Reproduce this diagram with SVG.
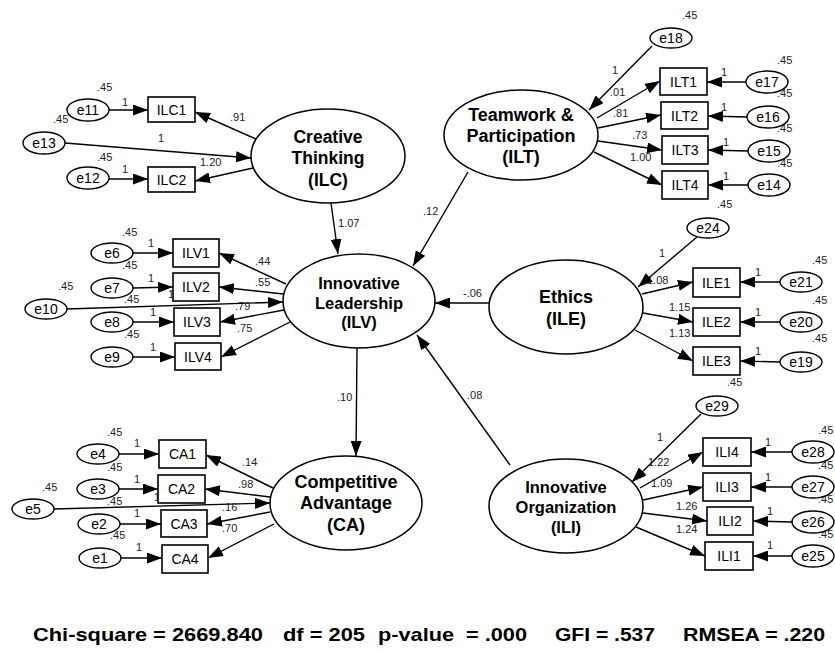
<svg xmlns="http://www.w3.org/2000/svg" width="835" height="653" viewBox="0 0 835 653">
<defs>
<marker id="ah" markerUnits="userSpaceOnUse" markerWidth="15" markerHeight="11" refX="15" refY="5.5" orient="auto">
<path d="M0,0 L15,5.5 L0,11 z" fill="#000"/>
</marker>
<style>
.lat{fill:#fff;stroke:#000;stroke-width:1.5}
.obs{fill:#fff;stroke:#000;stroke-width:1.6}
.err{fill:#fff;stroke:#000;stroke-width:1.4}
.ln{stroke:#000;stroke-width:1.4;fill:none;marker-end:url(#ah)}
.lt{font-family:"Liberation Sans",Arial,sans-serif;font-weight:bold;fill:#000;text-anchor:middle}
.nt{font-family:"Liberation Sans",Arial,sans-serif;font-size:14px;fill:#000;text-anchor:middle}
.num{font-family:"Liberation Sans",Arial,sans-serif;font-size:11px;fill:#222}
.fit{font-family:"Liberation Sans",Arial,sans-serif;font-weight:bold;font-size:19px;fill:#000}
</style>
</defs>
<rect width="835" height="653" fill="#fff"/>

<g id="connectors">
<line class="ln" x1="109" y1="110" x2="148" y2="110"/>
<line class="ln" x1="109" y1="179" x2="148" y2="179"/>
<line class="ln" x1="65" y1="143" x2="251" y2="158"/>
<line class="ln" x1="256" y1="139" x2="195" y2="112"/>
<line class="ln" x1="253" y1="168" x2="195" y2="181"/>
<line class="ln" x1="331" y1="203" x2="338" y2="254"/>
<line class="ln" x1="468" y1="172" x2="413" y2="266"/>
<line class="ln" x1="489" y1="303" x2="435" y2="303"/>
<line class="ln" x1="510" y1="465" x2="417" y2="335"/>
<line class="ln" x1="357" y1="348" x2="356" y2="456"/>
<line class="ln" x1="652" y1="46" x2="589" y2="110"/>
<line class="ln" x1="597" y1="118" x2="660" y2="81"/>
<line class="ln" x1="598" y1="128" x2="661" y2="115"/>
<line class="ln" x1="598" y1="141" x2="662" y2="150"/>
<line class="ln" x1="594" y1="152" x2="662" y2="185"/>
<line class="ln" x1="746" y1="82" x2="707" y2="82"/>
<line class="ln" x1="747" y1="117" x2="708" y2="116"/>
<line class="ln" x1="748" y1="151" x2="708" y2="150"/>
<line class="ln" x1="748" y1="185" x2="708" y2="185"/>
<line class="ln" x1="697" y1="237" x2="638" y2="287"/>
<line class="ln" x1="642" y1="294" x2="693" y2="282"/>
<line class="ln" x1="643" y1="313" x2="693" y2="322"/>
<line class="ln" x1="635" y1="330" x2="693" y2="361"/>
<line class="ln" x1="780" y1="282" x2="740" y2="282"/>
<line class="ln" x1="780" y1="322" x2="740" y2="322"/>
<line class="ln" x1="780" y1="362" x2="740" y2="361"/>
<line class="ln" x1="133" y1="253" x2="173" y2="253"/>
<line class="ln" x1="133" y1="288" x2="173" y2="287"/>
<line class="ln" x1="133" y1="322" x2="174" y2="322"/>
<line class="ln" x1="133" y1="357" x2="175" y2="357"/>
<line class="ln" x1="67" y1="309" x2="283" y2="302"/>
<line class="ln" x1="286" y1="284" x2="219" y2="253"/>
<line class="ln" x1="283" y1="294" x2="219" y2="287"/>
<line class="ln" x1="284" y1="310" x2="220" y2="322"/>
<line class="ln" x1="290" y1="322" x2="221" y2="357"/>
<line class="ln" x1="119" y1="454" x2="159" y2="454"/>
<line class="ln" x1="119" y1="489" x2="158" y2="489"/>
<line class="ln" x1="120" y1="524" x2="161" y2="524"/>
<line class="ln" x1="121" y1="558" x2="162" y2="558"/>
<line class="ln" x1="54" y1="509" x2="270" y2="503"/>
<line class="ln" x1="273" y1="488" x2="206" y2="455"/>
<line class="ln" x1="270" y1="497" x2="205" y2="489"/>
<line class="ln" x1="270" y1="512" x2="207" y2="524"/>
<line class="ln" x1="274" y1="524" x2="208" y2="558"/>
<line class="ln" x1="701" y1="414" x2="632" y2="482"/>
<line class="ln" x1="640" y1="488" x2="703" y2="452"/>
<line class="ln" x1="643" y1="500" x2="703" y2="487"/>
<line class="ln" x1="643" y1="513" x2="707" y2="521"/>
<line class="ln" x1="636" y1="527" x2="705" y2="556"/>
<line class="ln" x1="792" y1="452" x2="751" y2="452"/>
<line class="ln" x1="792" y1="487" x2="751" y2="487"/>
<line class="ln" x1="792" y1="522" x2="753" y2="521"/>
<line class="ln" x1="792" y1="556" x2="753" y2="556"/>
</g>

<g id="path-labels">
<text class="num" x="97" y="91">.45</text><text class="num" x="122" y="106">1</text>
<text class="num" x="53" y="123">.45</text><text class="num" x="158" y="142">1</text>
<text class="num" x="97" y="161">.45</text><text class="num" x="122" y="173">1</text>
<text class="num" x="230" y="121">.91</text>
<text class="num" x="200" y="166">1.20</text>
<text class="num" x="338" y="227">1.07</text>
<text class="num" x="423" y="215">.12</text>
<text class="num" x="463" y="297">-.06</text>
<text class="num" x="467" y="399">.08</text>
<text class="num" x="337" y="401">.10</text>
<text class="num" x="682" y="19">.45</text>
<text class="num" x="612" y="74">1</text>
<text class="num" x="610" y="96">.01</text>
<text class="num" x="613" y="117">.81</text>
<text class="num" x="632" y="139">.73</text>
<text class="num" x="630" y="161">1.00</text>
<text class="num" x="721" y="76">1</text><text class="num" x="777" y="64">.45</text>
<text class="num" x="721" y="111">1</text><text class="num" x="777" y="97">.45</text>
<text class="num" x="723" y="146">1</text><text class="num" x="777" y="132">.45</text>
<text class="num" x="723" y="180">1</text><text class="num" x="777" y="167">.45</text>
<text class="num" x="717" y="208">.45</text>
<text class="num" x="659" y="257">1</text>
<text class="num" x="647" y="284">1.08</text>
<text class="num" x="669" y="311">1.15</text>
<text class="num" x="669" y="337">1.13</text>
<text class="num" x="755" y="276">1</text><text class="num" x="812" y="264">.45</text>
<text class="num" x="755" y="316">1</text><text class="num" x="812" y="304">.45</text>
<text class="num" x="755" y="355">1</text><text class="num" x="812" y="342">.45</text>
<text class="num" x="122" y="236">.45</text><text class="num" x="148" y="247">1</text>
<text class="num" x="122" y="269">.45</text><text class="num" x="148" y="282">1</text>
<text class="num" x="58" y="290">.45</text><text class="num" x="168" y="298">1</text>
<text class="num" x="124" y="303">.45</text><text class="num" x="150" y="316">1</text>
<text class="num" x="124" y="338">.45</text><text class="num" x="150" y="351">1</text>
<text class="num" x="255" y="265">.44</text>
<text class="num" x="255" y="286">.55</text>
<text class="num" x="235" y="310">.79</text>
<text class="num" x="237" y="332">.75</text>
<text class="num" x="107" y="436">.45</text><text class="num" x="134" y="447">1</text>
<text class="num" x="107" y="471">.45</text><text class="num" x="134" y="483">1</text>
<text class="num" x="42" y="491">.45</text><text class="num" x="154" y="501">1</text>
<text class="num" x="107" y="505">.45</text><text class="num" x="134" y="517">1</text>
<text class="num" x="110" y="539">.45</text><text class="num" x="136" y="551">1</text>
<text class="num" x="242" y="466">.14</text>
<text class="num" x="238" y="488">.98</text>
<text class="num" x="222" y="511">.16</text>
<text class="num" x="222" y="532">.70</text>
<text class="num" x="727" y="386">.45</text>
<text class="num" x="657" y="441">1</text>
<text class="num" x="648" y="466">1.22</text>
<text class="num" x="651" y="487">1.09</text>
<text class="num" x="676" y="510">1.26</text>
<text class="num" x="676" y="533">1.24</text>
<text class="num" x="765" y="446">1</text><text class="num" x="818" y="434">.45</text>
<text class="num" x="765" y="481">1</text><text class="num" x="818" y="469">.45</text>
<text class="num" x="767" y="515">1</text><text class="num" x="818" y="503">.45</text>
<text class="num" x="767" y="549">1</text><text class="num" x="818" y="538">.45</text>
</g>

<g id="ILC"><ellipse class="lat" cx="328" cy="156" rx="77" ry="47"/>
<text class="lt" font-size="17.5" x="328" y="143">Creative</text>
<text class="lt" font-size="17.5" x="328" y="164">Thinking</text>
<text class="lt" font-size="17.5" x="328" y="186">(ILC)</text></g>
<g id="ILV"><ellipse class="lat" cx="359" cy="301" rx="76" ry="47"/>
<text class="lt" font-size="16.5" x="359" y="289">Innovative</text>
<text class="lt" font-size="16.5" x="359" y="309">Leadership</text>
<text class="lt" font-size="16.5" x="359" y="328">(ILV)</text></g>
<g id="ILT"><ellipse class="lat" cx="521" cy="135" rx="77" ry="45"/>
<text class="lt" font-size="18" x="521" y="121">Teamwork &amp;</text>
<text class="lt" font-size="18" x="521" y="142">Participation</text>
<text class="lt" font-size="18" x="521" y="163">(ILT)</text></g>
<g id="ILE"><ellipse class="lat" cx="566" cy="307" rx="77" ry="47"/>
<text class="lt" font-size="18" x="566" y="303">Ethics</text>
<text class="lt" font-size="18" x="566" y="325">(ILE)</text></g>
<g id="CA"><ellipse class="lat" cx="346" cy="503" rx="76" ry="47"/>
<text class="lt" font-size="18" x="346" y="488">Competitive</text>
<text class="lt" font-size="18" x="346" y="509">Advantage</text>
<text class="lt" font-size="18" x="346" y="531">(CA)</text></g>
<g id="ILI"><ellipse class="lat" cx="566" cy="506" rx="77" ry="47"/>
<text class="lt" font-size="16.5" x="566" y="493">Innovative</text>
<text class="lt" font-size="16.5" x="566" y="513">Organization</text>
<text class="lt" font-size="16.5" x="566" y="533">(ILI)</text></g>

<g id="ILC1"><rect class="obs" x="148" y="97" width="47" height="25"/><text class="nt" x="171.5" y="114.5">ILC1</text></g>
<g id="ILC2"><rect class="obs" x="148" y="167" width="47" height="25"/><text class="nt" x="171.5" y="184.5">ILC2</text></g>
<g id="ILT1"><rect class="obs" x="660" y="68" width="47" height="27"/><text class="nt" x="683.5" y="86.5">ILT1</text></g>
<g id="ILT2"><rect class="obs" x="661" y="102" width="47" height="27"/><text class="nt" x="684.5" y="120.5">ILT2</text></g>
<g id="ILT3"><rect class="obs" x="662" y="136" width="46" height="28"/><text class="nt" x="685" y="155">ILT3</text></g>
<g id="ILT4"><rect class="obs" x="662" y="171" width="46" height="28"/><text class="nt" x="685" y="190">ILT4</text></g>
<g id="ILE1"><rect class="obs" x="693" y="268" width="47" height="29"/><text class="nt" x="716.5" y="287.5">ILE1</text></g>
<g id="ILE2"><rect class="obs" x="693" y="308" width="47" height="28"/><text class="nt" x="716.5" y="327">ILE2</text></g>
<g id="ILE3"><rect class="obs" x="693" y="347" width="47" height="28"/><text class="nt" x="716.5" y="366">ILE3</text></g>
<g id="ILV1"><rect class="obs" x="173" y="239" width="46" height="28"/><text class="nt" x="196" y="258">ILV1</text></g>
<g id="ILV2"><rect class="obs" x="173" y="273" width="46" height="28"/><text class="nt" x="196" y="292">ILV2</text></g>
<g id="ILV3"><rect class="obs" x="174" y="308" width="46" height="28"/><text class="nt" x="197" y="327">ILV3</text></g>
<g id="ILV4"><rect class="obs" x="175" y="343" width="46" height="27"/><text class="nt" x="198" y="361.5">ILV4</text></g>
<g id="CA1"><rect class="obs" x="159" y="440" width="47" height="28"/><text class="nt" x="182.5" y="459">CA1</text></g>
<g id="CA2"><rect class="obs" x="158" y="475" width="47" height="28"/><text class="nt" x="181.5" y="494">CA2</text></g>
<g id="CA3"><rect class="obs" x="161" y="510" width="46" height="27"/><text class="nt" x="184" y="528.5">CA3</text></g>
<g id="CA4"><rect class="obs" x="162" y="545" width="46" height="28"/><text class="nt" x="185" y="564">CA4</text></g>
<g id="ILI4"><rect class="obs" x="703" y="438" width="48" height="28"/><text class="nt" x="727" y="457">ILI4</text></g>
<g id="ILI3"><rect class="obs" x="703" y="473" width="48" height="28"/><text class="nt" x="727" y="492">ILI3</text></g>
<g id="ILI2"><rect class="obs" x="707" y="507" width="46" height="28"/><text class="nt" x="730" y="526">ILI2</text></g>
<g id="ILI1"><rect class="obs" x="705" y="542" width="48" height="28"/><text class="nt" x="729" y="561">ILI1</text></g>

<g id="e11"><ellipse class="err" cx="88" cy="110" rx="21" ry="11"/><text class="nt" x="88" y="115">e11</text></g>
<g id="e13"><ellipse class="err" cx="44" cy="143" rx="21" ry="11"/><text class="nt" x="44" y="148">e13</text></g>
<g id="e12"><ellipse class="err" cx="88" cy="178" rx="21" ry="11"/><text class="nt" x="88" y="183">e12</text></g>
<g id="e18"><ellipse class="err" cx="671" cy="38" rx="21" ry="10"/><text class="nt" x="671" y="43">e18</text></g>
<g id="e17"><ellipse class="err" cx="767" cy="82" rx="21" ry="11"/><text class="nt" x="767" y="87">e17</text></g>
<g id="e16"><ellipse class="err" cx="768" cy="117" rx="21" ry="11"/><text class="nt" x="768" y="122">e16</text></g>
<g id="e15"><ellipse class="err" cx="769" cy="151" rx="21" ry="11"/><text class="nt" x="769" y="156">e15</text></g>
<g id="e14"><ellipse class="err" cx="769" cy="185" rx="21" ry="11"/><text class="nt" x="769" y="190">e14</text></g>
<g id="e24"><ellipse class="err" cx="708" cy="228" rx="21" ry="10"/><text class="nt" x="708" y="233">e24</text></g>
<g id="e21"><ellipse class="err" cx="801" cy="282" rx="21" ry="10"/><text class="nt" x="801" y="287">e21</text></g>
<g id="e20"><ellipse class="err" cx="801" cy="322" rx="21" ry="10"/><text class="nt" x="801" y="327">e20</text></g>
<g id="e19"><ellipse class="err" cx="801" cy="362" rx="21" ry="10"/><text class="nt" x="801" y="367">e19</text></g>
<g id="e6"><ellipse class="err" cx="112" cy="253" rx="21" ry="10"/><text class="nt" x="112" y="258">e6</text></g>
<g id="e7"><ellipse class="err" cx="112" cy="288" rx="21" ry="10"/><text class="nt" x="112" y="293">e7</text></g>
<g id="e8"><ellipse class="err" cx="112" cy="322" rx="21" ry="10"/><text class="nt" x="112" y="327">e8</text></g>
<g id="e9"><ellipse class="err" cx="112" cy="357" rx="21" ry="10"/><text class="nt" x="112" y="362">e9</text></g>
<g id="e10"><ellipse class="err" cx="46" cy="309" rx="21" ry="10"/><text class="nt" x="46" y="314">e10</text></g>
<g id="e4"><ellipse class="err" cx="98" cy="454" rx="21" ry="10"/><text class="nt" x="98" y="459">e4</text></g>
<g id="e3"><ellipse class="err" cx="98" cy="489" rx="21" ry="10"/><text class="nt" x="98" y="494">e3</text></g>
<g id="e2"><ellipse class="err" cx="99" cy="524" rx="21" ry="10"/><text class="nt" x="99" y="529">e2</text></g>
<g id="e1"><ellipse class="err" cx="100" cy="558" rx="21" ry="10"/><text class="nt" x="100" y="563">e1</text></g>
<g id="e5"><ellipse class="err" cx="33" cy="509" rx="21" ry="10"/><text class="nt" x="33" y="514">e5</text></g>
<g id="e29"><ellipse class="err" cx="717" cy="406" rx="21" ry="10"/><text class="nt" x="717" y="411">e29</text></g>
<g id="e28"><ellipse class="err" cx="813" cy="452" rx="21" ry="11"/><text class="nt" x="813" y="457">e28</text></g>
<g id="e27"><ellipse class="err" cx="813" cy="487" rx="21" ry="11"/><text class="nt" x="813" y="492">e27</text></g>
<g id="e26"><ellipse class="err" cx="813" cy="522" rx="21" ry="11"/><text class="nt" x="813" y="527">e26</text></g>
<g id="e25"><ellipse class="err" cx="813" cy="556" rx="21" ry="11"/><text class="nt" x="813" y="561">e25</text></g>

<g id="fit-indices">
<text class="fit" x="33" y="641" textLength="230" lengthAdjust="spacingAndGlyphs">Chi-square = 2669.840</text>
<text class="fit" x="283" y="641" textLength="82" lengthAdjust="spacingAndGlyphs">df = 205</text>
<text class="fit" x="378" y="641" textLength="149" lengthAdjust="spacingAndGlyphs" style="white-space:pre">p-value  = .000</text>
<text class="fit" x="555" y="641" textLength="100" lengthAdjust="spacingAndGlyphs">GFI = .537</text>
<text class="fit" x="683" y="641" textLength="142" lengthAdjust="spacingAndGlyphs">RMSEA = .220</text>
</g>
</svg>
